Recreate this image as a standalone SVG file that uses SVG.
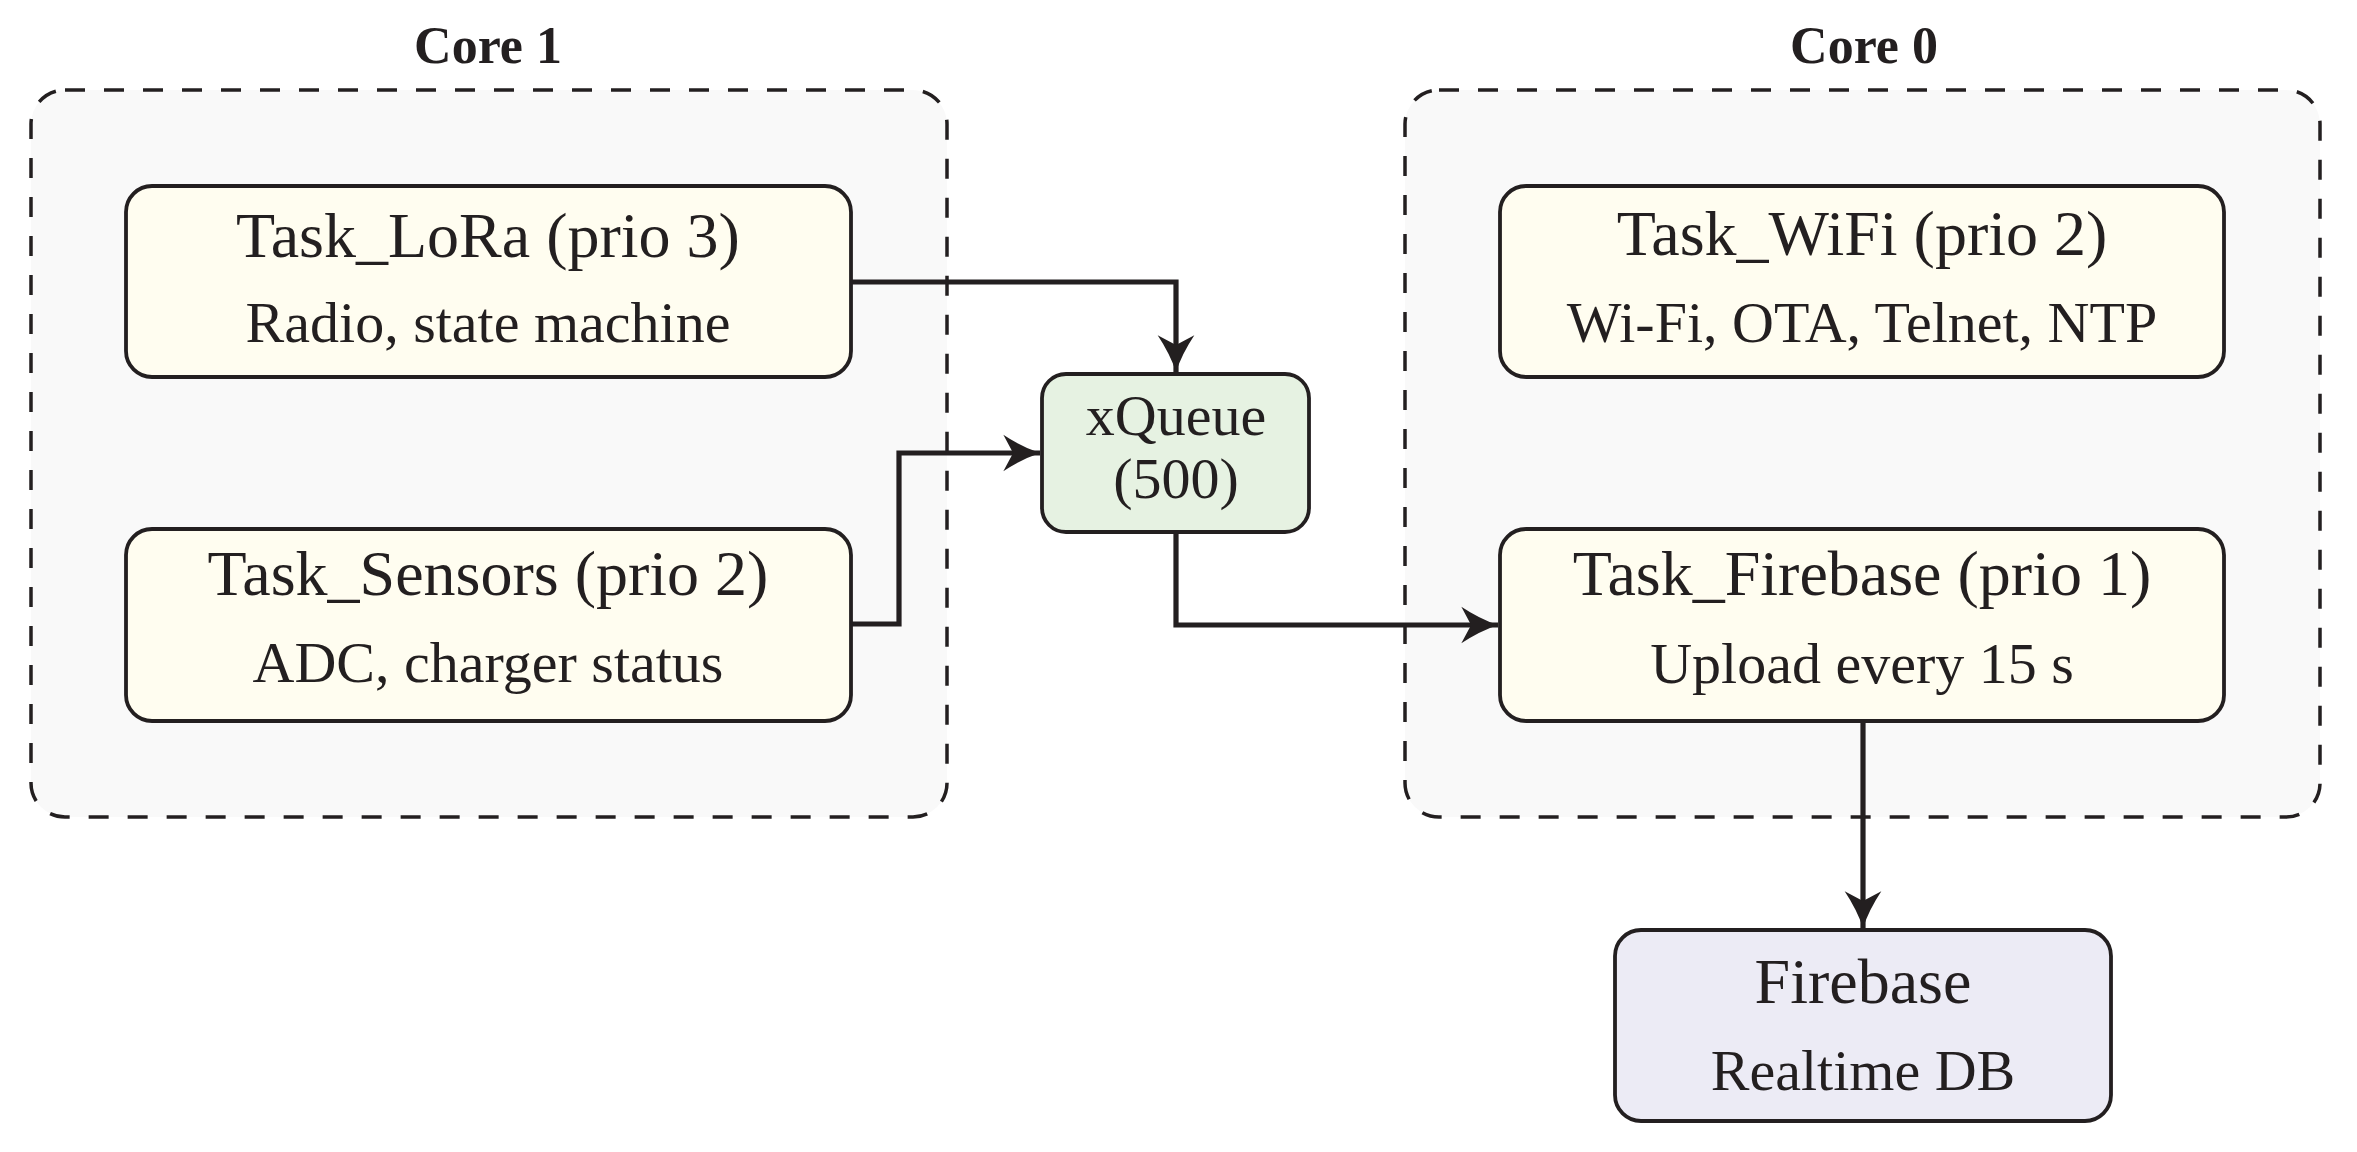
<svg xmlns="http://www.w3.org/2000/svg" width="2357" height="1152" viewBox="0 0 2357 1152">
<style>
.core{fill:#f9f9f9;stroke:#231f20;stroke-width:3.5;stroke-dasharray:20 19}
.task{fill:#fffdf0;stroke:#231f20;stroke-width:3.8}
.queue{fill:#e6f2e2;stroke:#231f20;stroke-width:3.8}
.db{fill:#ecebf5;stroke:#231f20;stroke-width:3.8}
.conn{fill:none;stroke:#231f20;stroke-width:5.2;marker-end:url(#arr)}
text{font-family:"Liberation Serif","DejaVu Serif",serif;fill:#231f20;text-anchor:middle}
.t1{font-size:64px}
.t2{font-size:58px}
.lbl{font-size:52px;font-weight:bold}
</style>
<defs>
<marker id="arr" markerUnits="userSpaceOnUse" markerWidth="44" markerHeight="44" viewBox="-34 -18 36 36" refX="0" refY="0" orient="auto">
<path d="M0,0 Q-15,-5 -30,-15 L-22,0 L-30,15 Q-15,5 0,0 Z" fill="#231f20"/>
</marker>
</defs>
<rect width="2357" height="1152" fill="#ffffff"/>
<g id="core1">
<rect class="core" x="31" y="90" width="916" height="727" rx="34"/>
<text class="lbl" x="488" y="63">Core 1</text>
</g>
<g id="core0">
<rect class="core" x="1405" y="90" width="915" height="727" rx="34"/>
<text class="lbl" x="1864" y="63">Core 0</text>
</g>
<g id="connectors">
<path class="conn" d="M851,282 H1176 V372"/>
<path class="conn" d="M851,624 H899 V453 H1040"/>
<path class="conn" d="M1176,532 V625 H1498"/>
<path class="conn" d="M1863,721 V928"/>
</g>
<g id="task_lora">
<rect class="task" x="126" y="186" width="725" height="191" rx="26"/>
<text class="t1" x="488" y="257">Task_LoRa (prio 3)</text>
<text class="t2" x="488" y="342">Radio, state machine</text>
</g>
<g id="task_sensors">
<rect class="task" x="126" y="529" width="725" height="192" rx="26"/>
<text class="t1" x="488" y="595">Task_Sensors (prio 2)</text>
<text class="t2" x="488" y="682">ADC, charger status</text>
</g>
<g id="task_wifi">
<rect class="task" x="1500" y="186" width="724" height="191" rx="26"/>
<text class="t1" x="1862" y="255">Task_WiFi (prio 2)</text>
<text class="t2" x="1862" y="342">Wi-Fi, OTA, Telnet, NTP</text>
</g>
<g id="task_firebase">
<rect class="task" x="1500" y="529" width="724" height="192" rx="26"/>
<text class="t1" x="1862" y="595">Task_Firebase (prio 1)</text>
<text class="t2" x="1862" y="683">Upload every 15 s</text>
</g>
<g id="xqueue">
<rect class="queue" x="1042" y="374" width="267" height="158" rx="24"/>
<text class="t2" x="1176" y="435">xQueue</text>
<text class="t2" x="1176" y="498">(500)</text>
</g>
<g id="firebase">
<rect class="db" x="1615" y="930" width="496" height="191" rx="26"/>
<text class="t1" x="1863" y="1003">Firebase</text>
<text class="t2" x="1863" y="1090">Realtime DB</text>
</g>
</svg>
